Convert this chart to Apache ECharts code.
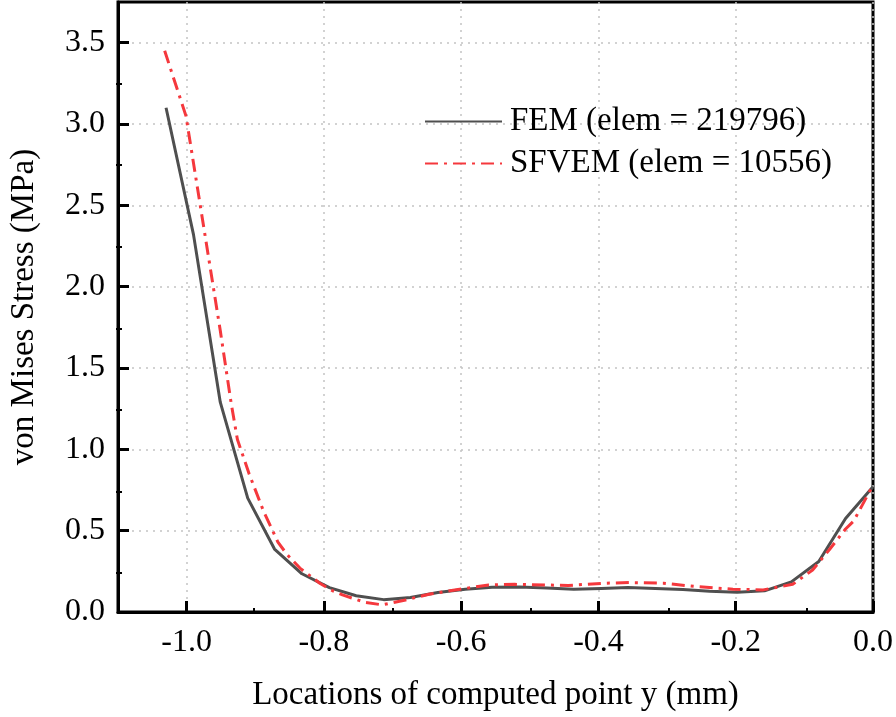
<!DOCTYPE html>
<html>
<head>
<meta charset="utf-8">
<script src="https://cdn.jsdelivr.net/npm/echarts@6/dist/echarts.min.js"></script>
<style>
html,body{margin:0;padding:0;background:#fff;}
#chart{width:896px;height:717px;}
</style>
</head>
<body>
<div id="chart"></div>
<script>
// ---- data ----
var femX = [-1.030, -0.990, -0.951, -0.911, -0.872, -0.832, -0.792, -0.753, -0.713, -0.674,
            -0.634, -0.594, -0.555, -0.515, -0.475, -0.436, -0.396, -0.357, -0.317, -0.277,
            -0.238, -0.198, -0.158, -0.119, -0.079, -0.040, 0.000];
var femY = [3.10, 2.32, 1.29, 0.70, 0.387, 0.235, 0.150, 0.100, 0.076, 0.089,
            0.120, 0.140, 0.152, 0.153, 0.147, 0.140, 0.145, 0.150, 0.145, 0.138,
            0.128, 0.121, 0.130, 0.185, 0.310, 0.575, 0.770];
var sfvemX = [-1.032, -1.001, -0.951, -0.935, -0.926, -0.909, -0.888, -0.867, -0.854, -0.835,
              -0.806, -0.787, -0.773, -0.739, -0.715, -0.681, -0.647, -0.599, -0.560, -0.522,
              -0.478, -0.444, -0.392, -0.353, -0.305, -0.257, -0.204, -0.160, -0.117, -0.088,
              -0.064, -0.040, -0.028, 0.000];
var sfvemY = [3.45, 3.05, 1.73, 1.28, 1.06, 0.85, 0.62, 0.43, 0.355, 0.27,
              0.177, 0.130, 0.105, 0.058, 0.044, 0.074, 0.109, 0.142, 0.166, 0.170,
              0.166, 0.163, 0.177, 0.181, 0.177, 0.156, 0.140, 0.136, 0.170, 0.258,
              0.381, 0.510, 0.560, 0.780];
var xMajorTicks = [-1.0, -0.8, -0.6, -0.4, -0.2, 0.0];
var xMinorTicks = [-0.9, -0.7, -0.5, -0.3, -0.1];
var yMajorTicks = [0.0, 0.5, 1.0, 1.5, 2.0, 2.5, 3.0, 3.5];
var yMinorTicks = [0.25, 0.75, 1.25, 1.75, 2.25, 2.75, 3.25];
var seriesNames = ['FEM (elem = 219796)', 'SFVEM (elem = 10556)'];
var xTitle = 'Locations of computed point y (mm)';
var yTitle = 'von Mises Stress (MPa)';

function pairs(xs, ys) { return xs.map(function (x, i) { return [x, ys[i]]; }); }

var FONT = '"Liberation Serif", "Times New Roman", serif';
var gridLine = { show: true, lineStyle: { color: '#c4c4c4', width: 1.5, type: [2, 5] } };
var gridRect = { left: 116, right: 20, top: 2, bottom: 103 };
var FEM_COLOR = '#4f4f4f';
var SF_COLOR = '#f5383d';

var chart = echarts.init(document.getElementById('chart'), null, { renderer: 'canvas' });
chart.setOption({
  animation: false,
  backgroundColor: '#ffffff',
  grid: [
    Object.assign({ show: true, borderColor: '#000', borderWidth: 3, backgroundColor: 'transparent' }, gridRect),
    Object.assign({ show: false }, gridRect)
  ],
  legend: {
    orient: 'vertical', left: 419, top: 100,
    itemWidth: 77, itemHeight: 14, itemGap: 9,
    itemStyle: { color: 'rgba(0,0,0,0)', borderColor: 'rgba(0,0,0,0)', borderWidth: 0, opacity: 0 },
    textStyle: { fontFamily: FONT, fontSize: 33, color: '#000', lineHeight: 33, padding: [0, 0, 0, 3] },
    data: seriesNames
  },
  xAxis: [{
    gridIndex: 0, type: 'value', min: -1.1, max: 0, interval: 0.1,
    axisLine: { show: true, onZero: false, lineStyle: { color: '#000', width: 3 } },
    axisTick: { show: true, inside: true, length: 11, customValues: xMajorTicks, lineStyle: { color: '#000', width: 3 } },
    axisLabel: { show: true, customValues: xMajorTicks, margin: 15, fontFamily: FONT, fontSize: 32, color: '#000',
      formatter: function (v) { return v.toFixed(1); } },
    splitLine: gridLine,
    name: xTitle, nameLocation: 'middle', nameGap: 67,
    nameTextStyle: { fontFamily: FONT, fontSize: 33, color: '#000' }
  }, {
    gridIndex: 1, type: 'value', min: -1.1, max: 0, position: 'bottom',
    axisLine: { show: false, onZero: false },
    axisTick: { show: true, inside: true, length: 6, customValues: xMinorTicks, lineStyle: { color: '#000', width: 2 } },
    axisLabel: { show: false }, splitLine: { show: false }
  }],
  yAxis: [{
    gridIndex: 0, type: 'value', min: 0, max: 3.75, interval: 0.25,
    axisLine: { show: true, onZero: false, lineStyle: { color: '#000', width: 3 } },
    axisTick: { show: true, inside: true, length: 11, customValues: yMajorTicks, lineStyle: { color: '#000', width: 3 } },
    axisLabel: { show: true, customValues: yMajorTicks, margin: 13, fontFamily: FONT, fontSize: 32, color: '#000',
      formatter: function (v) { return v.toFixed(1); } },
    splitLine: gridLine,
    name: yTitle, nameLocation: 'middle', nameGap: 77,
    nameTextStyle: { fontFamily: FONT, fontSize: 33, color: '#000' }
  }, {
    gridIndex: 1, type: 'value', min: 0, max: 3.75, position: 'left',
    axisLine: { show: false, onZero: false },
    axisTick: { show: true, inside: true, length: 6, customValues: yMinorTicks, lineStyle: { color: '#000', width: 2 } },
    axisLabel: { show: false }, splitLine: { show: false }
  }],
  series: [{
    name: seriesNames[0], type: 'line', xAxisIndex: 0, yAxisIndex: 0, data: pairs(femX, femY),
    showSymbol: false, symbol: 'none', smooth: false,
    lineStyle: { color: FEM_COLOR, width: 3 }, itemStyle: { color: FEM_COLOR }
  }, {
    name: seriesNames[1], type: 'line', xAxisIndex: 0, yAxisIndex: 0, data: pairs(sfvemX, sfvemY),
    showSymbol: false, symbol: 'none', smooth: false,
    lineStyle: { color: SF_COLOR, width: 3, type: [13, 6, 3, 6] }, itemStyle: { color: SF_COLOR }
  }]
});
</script>
</body>
</html>
